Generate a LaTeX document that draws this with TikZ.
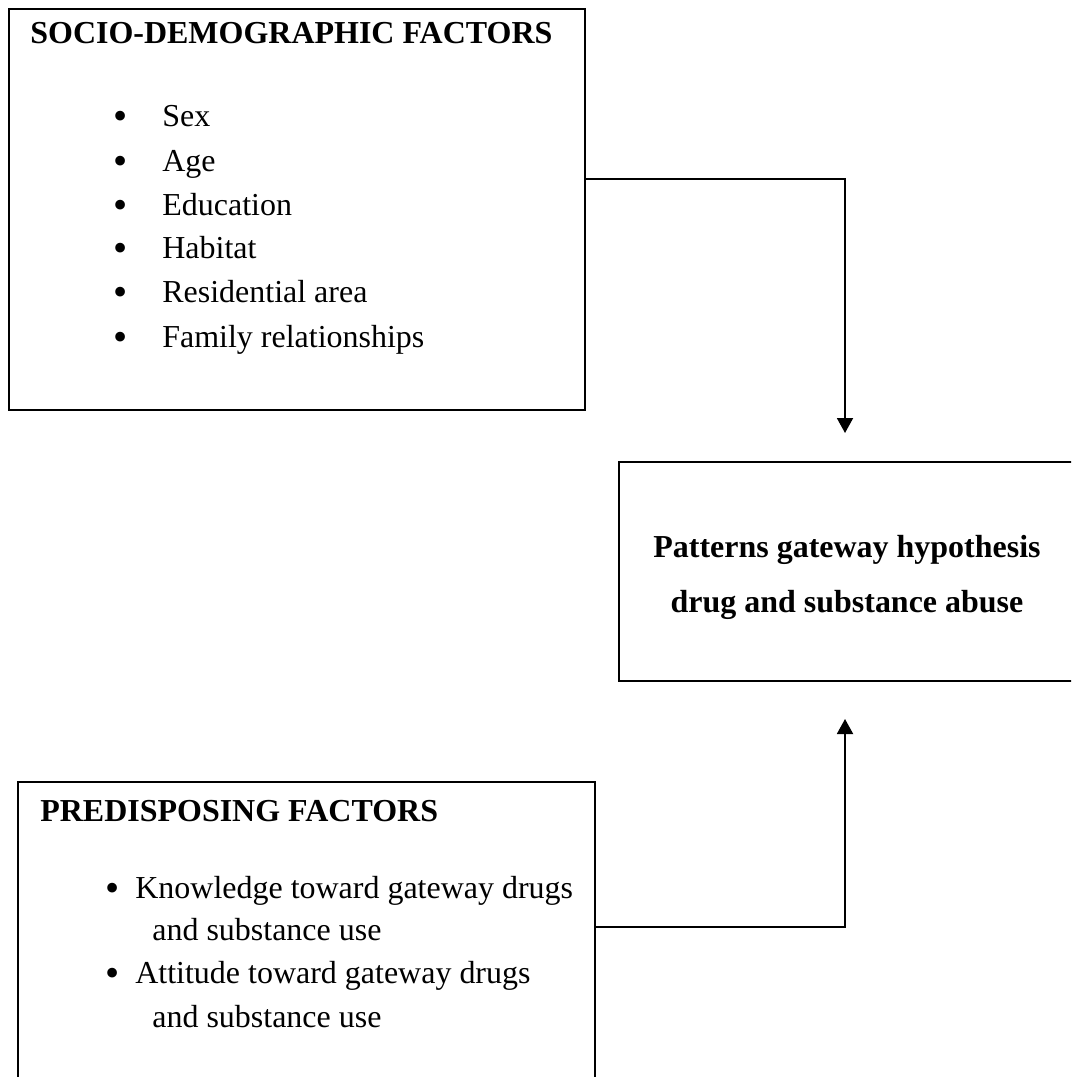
\documentclass[tikz,border=0pt]{standalone}
\usepackage{fontspec}
\setmainfont{Liberation Serif}
\usepackage{tikz}
\usetikzlibrary{arrows.meta, positioning}

\begin{document}
\begin{tikzpicture}[
  x=0.02cm, y=-0.02cm,
  arr/.style={-{Triangle[length=0.3cm, width=0.32cm]}, line width=1.1pt, black},
  framebox/.style={rectangle, draw=black, line width=1.1pt, inner sep=0pt, outer sep=0pt},
  hdtext/.style={anchor=base west, inner sep=0pt, font=\fontsize{18.2}{22}\selectfont\bfseries},
  itmtext/.style={anchor=base west, inner sep=0pt, font=\fontsize{18.2}{22}\selectfont},
  bultext/.style={anchor=base, inner sep=0pt, yshift=-0.06cm, font=\fontsize{23}{26}\selectfont}
]
\clip (0,0) rectangle (1071,1077);

\node[framebox, minimum width=11.52cm, minimum height=8.02cm] (socio)   at (297,209.5) {};
\node[framebox, minimum width=9.14cm,  minimum height=4.38cm] (outcome) at (847.5,571.5) {};
\node[framebox, minimum width=11.54cm, minimum height=6.2cm]  (predis)  at (306.5,937) {};

\node[hdtext] (sociohd) at (30,44) {SOCIO-DEMOGRAPHIC FACTORS};
\node[bultext] (b1) at (121,127) {•};  \node[itmtext] (s1) at (162,127) {Sex};
\node[bultext] (b2) at (121,172) {•};  \node[itmtext] (s2) at (162,172) {Age};
\node[bultext] (b3) at (121,216) {•};  \node[itmtext] (s3) at (162,216) {Education};
\node[bultext] (b4) at (121,259) {•};  \node[itmtext] (s4) at (162,259) {Habitat};
\node[bultext] (b5) at (121,303) {•};  \node[itmtext] (s5) at (162,303) {Residential area};
\node[bultext] (b6) at (121,348) {•};  \node[itmtext] (s6) at (162,348) {Family relationships};

\node[align=center, inner sep=0pt, font=\fontsize{18.2}{31.3}\selectfont\bfseries] (outtext) at (847,577)
  {Patterns gateway hypothesis\\drug and substance abuse};

\node[hdtext] (predishd) at (40,821) {PREDISPOSING FACTORS};
\node[bultext] (p1) at (113,898) {•};  \node[itmtext] (k1) at (135,898) {Knowledge toward gateway drugs};
\node[itmtext] (k2) at (152,940) {and substance use};
\node[bultext] (p2) at (113,983) {•};  \node[itmtext] (a1) at (135,983) {Attitude toward gateway drugs};
\node[itmtext] (a2) at (152,1027) {and substance use};

\coordinate (tipA) at (845,433);
\coordinate (tipB) at (845,719);

\draw[arr] (socio.6.4) -| (tipA);
\draw[arr] (predis.2.2) -| (tipB);
\end{tikzpicture}
\end{document}
